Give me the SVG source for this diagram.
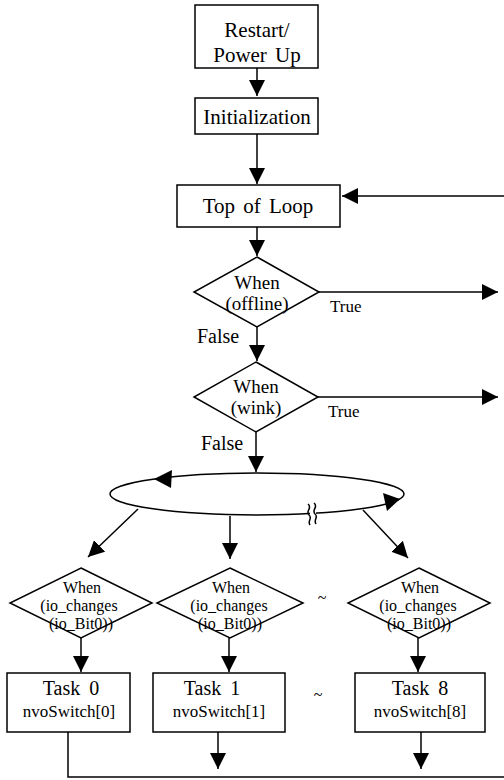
<svg xmlns="http://www.w3.org/2000/svg" width="504" height="780" viewBox="0 0 504 780">
<style>
.box{fill:#fff;stroke:#000;stroke-width:1.5}
.ln{fill:none;stroke:#000;stroke-width:1.5}
.t{font-family:"Liberation Serif","Times New Roman",serif;fill:#000;text-anchor:middle}
.b{font-size:21px;word-spacing:3px}
.d{font-size:19px}
.s{font-size:16px}
.n{font-size:17px}
.k{font-size:20px;word-spacing:4px}
.lbl{font-family:"Liberation Serif","Times New Roman",serif;fill:#000}
</style>
<defs>
<marker id="ah" markerUnits="userSpaceOnUse" markerWidth="17" markerHeight="16" refX="16" refY="8" orient="auto">
<path d="M0,0 L16,8 L0,16 z" fill="#000"/>
</marker>
</defs>
<rect width="504" height="780" fill="#fff"/>
<g id="connectors">
<path class="ln" d="M257,68 V96" marker-end="url(#ah)"/>
<path class="ln" d="M257,134 V184" marker-end="url(#ah)"/>
<path class="ln" d="M504,196 H342" marker-end="url(#ah)"/>
<path class="ln" d="M257,227 V256" marker-end="url(#ah)"/>
<path class="ln" d="M319,292 H498" marker-end="url(#ah)"/>
<path class="ln" d="M257,327 V361" marker-end="url(#ah)"/>
<path class="ln" d="M318,397 H498" marker-end="url(#ah)"/>
<path class="ln" d="M256,432 V472" marker-end="url(#ah)"/>
<path class="ln" d="M138,509 L88,557" marker-end="url(#ah)"/>
<path class="ln" d="M230,516 V559" marker-end="url(#ah)"/>
<path class="ln" d="M363,510 L408,558" marker-end="url(#ah)"/>
<path class="ln" d="M81,638 V672" marker-end="url(#ah)"/>
<path class="ln" d="M229,638 V672" marker-end="url(#ah)"/>
<path class="ln" d="M418,638 V672" marker-end="url(#ah)"/>
<path class="ln" d="M218,732 V769" marker-end="url(#ah)"/>
<path class="ln" d="M421,732 V769" marker-end="url(#ah)"/>
<path class="ln" d="M68,732 V777 H504"/>
<text class="lbl" x="330" y="312" font-size="17">True</text>
<text class="lbl" x="197" y="343" font-size="20">False</text>
<text class="lbl" x="328" y="417" font-size="17">True</text>
<text class="lbl" x="201" y="450" font-size="20">False</text>
</g>
<g id="restart">
<rect class="box" x="195" y="5" width="123" height="63"/>
<text class="t b" x="257" y="37">Restart/</text>
<text class="t b" x="257" y="62">Power Up</text>
</g>
<g id="init">
<rect class="box" x="195" y="98" width="123" height="36"/>
<text class="t b" x="257" y="124">Initialization</text>
</g>
<g id="toploop">
<rect class="box" x="177" y="185" width="163" height="42"/>
<text class="t b" x="258" y="213">Top of Loop</text>
</g>
<g id="offline">
<polygon class="box" points="257,257 319,292 257,327 194,292"/>
<text class="t d" x="257" y="289">When</text>
<text class="t d" x="257" y="310">(offline)</text>
</g>
<g id="wink">
<polygon class="box" points="256,362 318,397 256,432 194,397"/>
<text class="t d" x="256" y="393">When</text>
<text class="t d" x="256" y="414">(wink)</text>
</g>
<g id="dispatch">
<ellipse class="ln" cx="257" cy="494" rx="147" ry="21"/>
<polygon points="154,479 172,470 171,488" fill="#000"/>
<polygon points="400,499 383,493 387,511" fill="#000"/>
<rect x="310" y="505" width="6" height="18" fill="#fff"/>
<path class="ln" stroke-width="1.2" d="M308,504 c5,4 -3,7 1,11 c4,3 -2,6 1,10"/>
<path class="ln" stroke-width="1.2" d="M314,503 c5,4 -3,7 1,11 c4,3 -2,6 1,10"/>
</g>
<g id="when0">
<polygon class="box" points="81,568 152,603 81,638 10,603"/>
<text class="t s" x="82" y="593">When</text>
<text class="t s" x="79" y="611">(io_changes</text>
<text class="t s" x="81" y="629">(io_Bit0))</text>
</g>
<g id="when1">
<polygon class="box" points="230,568 303,603 230,638 157,603"/>
<text class="t s" x="231" y="593">When</text>
<text class="t s" x="229" y="611">(io_changes</text>
<text class="t s" x="230" y="629">(io_Bit0))</text>
</g>
<text class="t" x="322" y="603" font-size="16">~</text>
<g id="when8">
<polygon class="box" points="419,568 490,603 419,638 348,603"/>
<text class="t s" x="420" y="593">When</text>
<text class="t s" x="418" y="611">(io_changes</text>
<text class="t s" x="419" y="629">(io_Bit0))</text>
</g>
<g id="task0">
<rect class="box" x="7" y="673" width="123" height="59"/>
<text class="t k" x="71" y="695">Task 0</text>
<text class="t n" x="69" y="717">nvoSwitch[0]</text>
</g>
<g id="task1">
<rect class="box" x="153" y="673" width="132" height="59"/>
<text class="t k" x="212" y="695">Task 1</text>
<text class="t n" x="219" y="717">nvoSwitch[1]</text>
</g>
<text class="t" x="318" y="700" font-size="16">~</text>
<g id="task8">
<rect class="box" x="355" y="673" width="130" height="59"/>
<text class="t k" x="420" y="695">Task 8</text>
<text class="t n" x="420" y="717">nvoSwitch[8]</text>
</g>
</svg>
